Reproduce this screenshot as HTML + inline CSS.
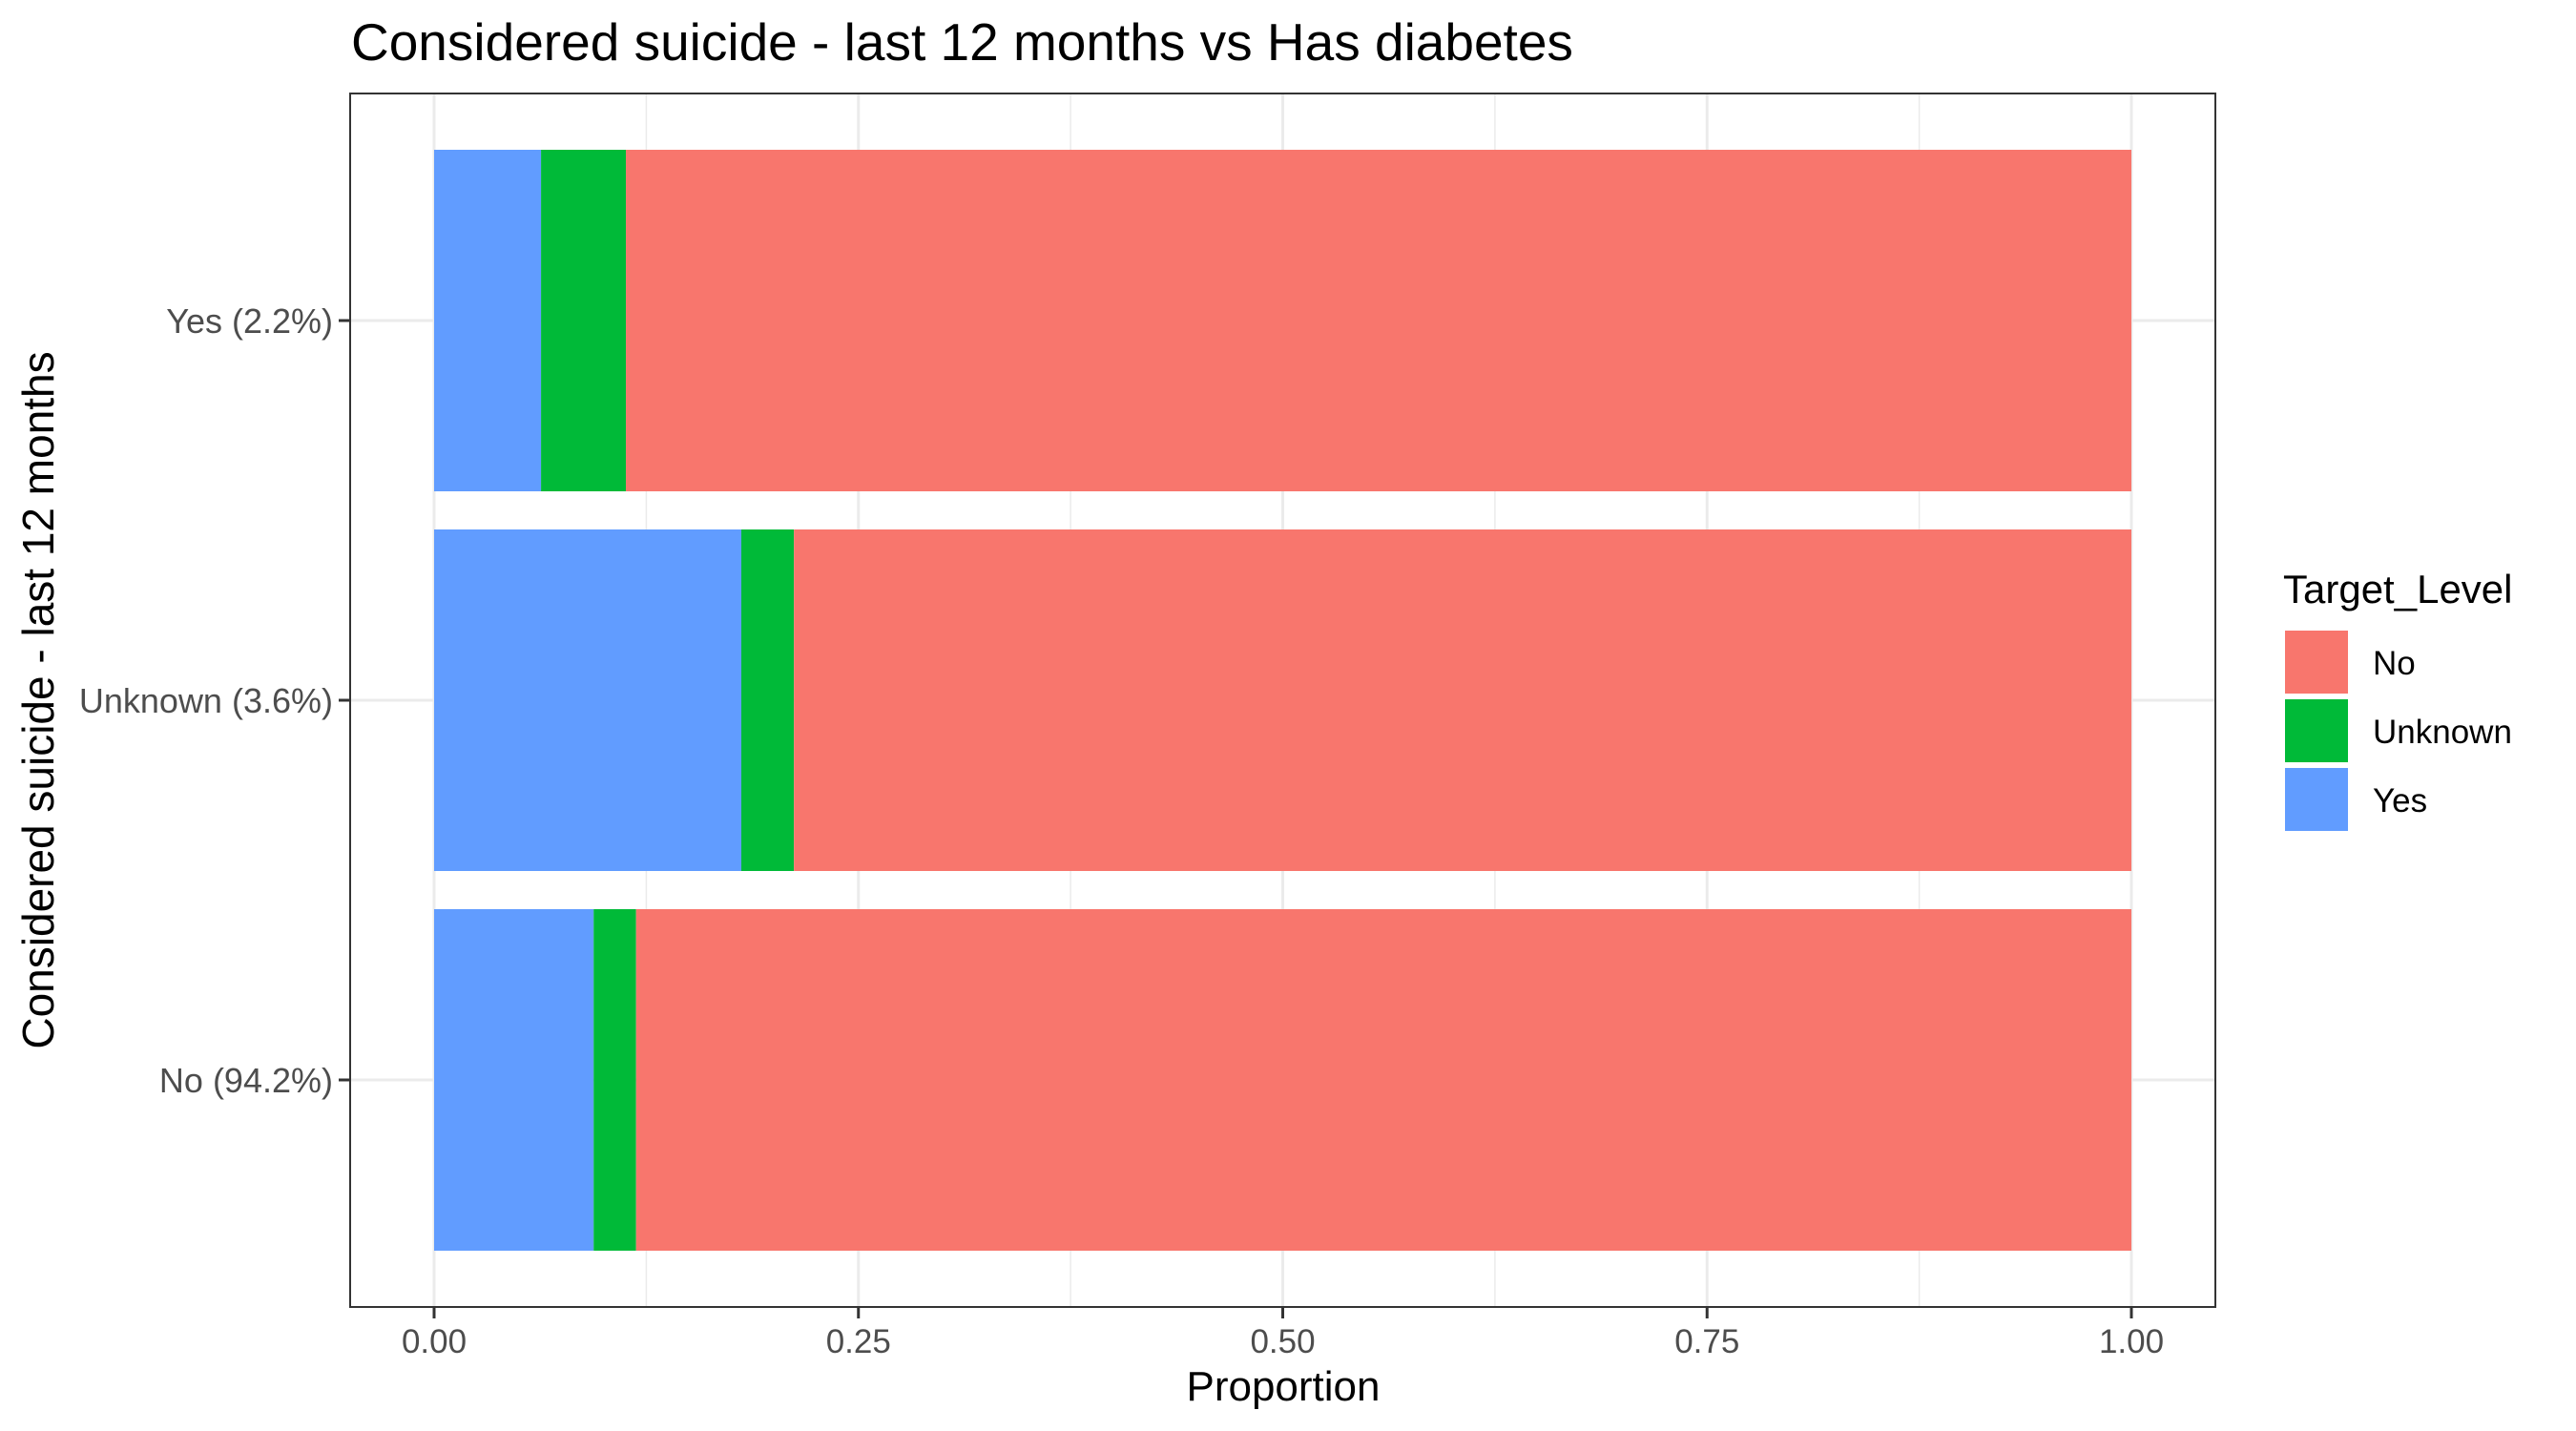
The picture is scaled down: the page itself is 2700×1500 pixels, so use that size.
<!DOCTYPE html>
<html><head><meta charset="utf-8"><style>
html,body{margin:0;padding:0;background:#fff;}
svg{display:block;font-family:"Liberation Sans",Arial,sans-serif;}
</style></head><body>
<svg id="chart" width="2700" height="1500" viewBox="0 0 2700 1500">
<rect x="0" y="0" width="2700" height="1500" fill="#fff"/>
<text x="368" y="63" font-size="55" fill="#000">Considered suicide - last 12 months vs Has diabetes</text>
<g id="grid"></g>
<g id="bars"></g>
<rect x="367" y="98" width="1955" height="1272" fill="none" stroke="#333" stroke-width="2"/>
<g id="axes"></g>
<text x="1345" y="1468" font-size="44" text-anchor="middle" fill="#000">Proportion</text>
<text transform="translate(56,734) rotate(-90)" font-size="46" text-anchor="middle" fill="#000">Considered suicide - last 12 months</text>
<g id="legend">
<text x="2393" y="632" font-size="42" fill="#000">Target_Level</text>
</g>
</svg>
<script>
const categories = ["Yes (2.2%)", "Unknown (3.6%)", "No (94.2%)"];
const yesVals = [0.063, 0.181, 0.094];
const unknownVals = [0.050, 0.031, 0.025];
const noVals = [0.887, 0.788, 0.881];
const xTicks = [0, 0.25, 0.5, 0.75, 1.0];
const xTickLabels = ["0.00", "0.25", "0.50", "0.75", "1.00"];
const xMinor = [0.125, 0.375, 0.625, 0.875];
const legendLevels = ["No", "Unknown", "Yes"];

const NS = "http://www.w3.org/2000/svg";
const colors = {No:"#F8766D", Unknown:"#00BA38", Yes:"#619CFF"};
const X0 = 455, X1 = 2234;
function xs(v){ return X0 + v*(X1-X0); }
const bandTop = 98, bandStep = 398, bandOffset = 238;
function yc(i){ return bandTop + bandOffset + i*bandStep; }
const barH = 358;
function mk(tag, attrs, parent){ const e=document.createElementNS(NS,tag); for(const k in attrs) e.setAttribute(k,attrs[k]); parent.appendChild(e); return e; }

const grid = document.getElementById('grid');
xMinor.forEach(v=>{
  const l = mk('line',{x1:xs(v),x2:xs(v),y1:98,y2:1370,stroke:'#ebebeb','stroke-width':1.5},grid);
  
  
});
xTicks.forEach(v=>{
  const l = mk('line',{x1:xs(v),x2:xs(v),y1:98,y2:1370,stroke:'#ebebeb','stroke-width':3},grid);
  
  
});
categories.forEach((c,i)=>{
  const l = mk('line',{x1:367,x2:2322,y1:yc(i),y2:yc(i),stroke:'#ebebeb','stroke-width':3},grid);
  
  
});

const bars = document.getElementById('bars');
categories.forEach((c,i)=>{
  const segs = [["Yes",yesVals[i]],["Unknown",unknownVals[i]],["No",noVals[i]]];
  let acc = 0;
  segs.forEach(([lvl,v])=>{
    const r = mk('rect',{x:xs(acc),y:yc(i)-barH/2,width:xs(acc+v)-xs(acc),height:barH,fill:colors[lvl]},bars);
    
    
    acc += v;
  });
});

const axes = document.getElementById('axes');
xTicks.forEach((v,i)=>{
  const t = mk('line',{x1:xs(v),x2:xs(v),y1:1370,y2:1382,stroke:'#333','stroke-width':3},axes);
  
  
  const tx = mk('text',{x:xs(v),y:1418,'font-size':35,'text-anchor':'middle',fill:'#4d4d4d'},axes);
  tx.textContent = xTickLabels[i];
  
  
});
categories.forEach((c,i)=>{
  const t = mk('line',{x1:355,x2:367,y1:yc(i),y2:yc(i),stroke:'#333','stroke-width':3},axes);
  
  
  const tx = mk('text',{x:349,y:yc(i)+13,'font-size':36,'text-anchor':'end',fill:'#4d4d4d'},axes);
  tx.textContent = c;
  
  
});

const legend = document.getElementById('legend');
legendLevels.forEach((lvl,i)=>{
  const r = mk('rect',{x:2395,y:661+i*72,width:66,height:66,fill:colors[lvl]},legend);
  
  
  const t = mk('text',{x:2487,y:707+i*72,'font-size':35,fill:'#000'},legend);
  t.textContent = lvl;
  
  
});
</script>
</body></html>
